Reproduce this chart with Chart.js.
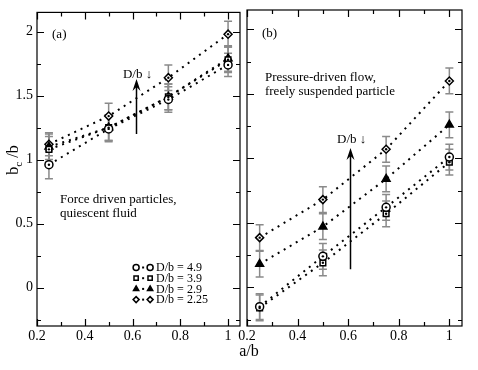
<!DOCTYPE html>
<html>
<head>
<meta charset="utf-8">
<script src="https://cdn.jsdelivr.net/npm/chart.js@4.4.0/dist/chart.umd.min.js"></script>
<style>
    html, body { margin: 0; padding: 0; background: #fff; }
    .wrap { position: relative; width: 478px; height: 370px; font-family: "Liberation Serif", serif; }
    .wrap canvas { position: absolute; left: 0; top: 0; }
    .probe { position: absolute; left: -999px; font: 14px "Liberation Serif"; }
</style>
</head>
<body>
<div class="wrap">
    <canvas id="panelA" width="478" height="370"></canvas>
    <canvas id="panelB" width="478" height="370"></canvas>
</div>
<span class="probe">0.2 D/b</span>
<script>
// a/b positions of the four measurements
const xValues = [0.25, 0.5, 0.75, 1];
const seriesLabels = ['D/b = 4.9', 'D/b = 3.9', 'D/b = 2.9', 'D/b = 2.25'];
const pointStyles = ['circle', 'rect', 'triangle', 'rectRot'];

// (a) force driven particles, quiescent fluid
const forceDb49 = [0.96, 1.24, 1.47, 1.74];
const forceDb39 = [1.08, 1.25, 1.49, 1.78];
const forceDb29 = [1.10, 1.25, 1.49, 1.79];
const forceDb225 = [1.12, 1.34, 1.64, 1.98];
const forceErr49 = [0.11, 0.10, 0.10, 0.09];
const forceErr39 = [0.10, 0.10, 0.10, 0.10];
const forceErr29 = [0.10, 0.10, 0.10, 0.10];
const forceErr225 = [0.09, 0.10, 0.10, 0.10];

// (b) pressure-driven flow, freely suspended particle
const flowDb49 = [-0.15, 0.24, 0.62, 1.01];
const flowDb39 = [-0.16, 0.19, 0.57, 0.97];
const flowDb29 = [0.18, 0.47, 0.84, 1.26];
const flowDb225 = [0.385, 0.68, 1.07, 1.60];
const flowErr49 = [0.10, 0.10, 0.10, 0.10];
const flowErr39 = [0.10, 0.10, 0.10, 0.10];
const flowErr29 = [0.10, 0.10, 0.10, 0.10];
const flowErr225 = [0.10, 0.10, 0.10, 0.10];

const xTicks = [0.2, 0.4, 0.6, 0.8, 1];
const yTicks = [0, 0.5, 1, 1.5, 2];
const xMinor = [0.3, 0.5, 0.7, 0.9];
const yMinor = [-0.25, 0.25, 0.75, 1.25, 1.75];

const SERIF = '"Liberation Serif", "Times New Roman", serif';

function makeSeries(values, errors, i) {
    return {
        label: seriesLabels[i],
        data: xValues.map((x, k) => ({ x, y: values[k] })),
        errors: errors,
        showLine: true,
        borderColor: '#000',
        borderWidth: 2,
        borderDash: [2, 5],
        pointStyle: pointStyles[i],
        pointRadius: i === 2 ? 4.5 : 4,
        pointBackgroundColor: i === 2 ? '#000' : '#fff',
        pointBorderColor: '#000',
        pointBorderWidth: 1.5
    };
}

// error bars under the markers
const errorBars = {
    id: 'errorBars',
    beforeDatasetsDraw(chart) {
        const { ctx, scales: { x, y } } = chart;
        ctx.save();
        ctx.strokeStyle = '#8a8a8a';
        ctx.lineWidth = 1.5;
        chart.data.datasets.forEach(ds => {
            ds.data.forEach((p, k) => {
                const e = ds.errors[k];
                const px = x.getPixelForValue(p.x);
                const top = y.getPixelForValue(p.y + e);
                const bot = y.getPixelForValue(p.y - e);
                ctx.beginPath();
                ctx.moveTo(px, top); ctx.lineTo(px, bot);
                ctx.moveTo(px - 4, top); ctx.lineTo(px + 4, top);
                ctx.moveTo(px - 4, bot); ctx.lineTo(px + 4, bot);
                ctx.stroke();
            });
        });
        ctx.restore();
    },
    afterDatasetsDraw(chart) {
        // little dot in the middle of the open symbols
        const { ctx } = chart;
        ctx.save();
        ctx.fillStyle = '#000';
        chart.data.datasets.forEach((ds, i) => {
            if (ds.pointStyle === 'triangle') return;
            chart.getDatasetMeta(i).data.forEach(pt => {
                ctx.beginPath();
                ctx.arc(pt.x, pt.y, 1.2, 0, Math.PI * 2);
                ctx.fill();
            });
        });
        ctx.restore();
    }
};

// box frame with inward ticks on all four sides
const frame = {
    id: 'frame',
    afterDraw(chart) {
        const { ctx, chartArea: a, scales: { x, y } } = chart;
        ctx.save();
        ctx.strokeStyle = '#000';
        ctx.lineWidth = 1.2;
        ctx.beginPath();
        const xt = (vals, len) => vals.forEach(v => {
            const px = Math.round(x.getPixelForValue(v)) + 0.5;
            ctx.moveTo(px, a.bottom); ctx.lineTo(px, a.bottom - len);
            ctx.moveTo(px, a.top); ctx.lineTo(px, a.top + len);
        });
        const yt = (vals, len) => vals.forEach(v => {
            const py = Math.round(y.getPixelForValue(v)) + 0.5;
            ctx.moveTo(a.left, py); ctx.lineTo(a.left + len, py);
            ctx.moveTo(a.right, py); ctx.lineTo(a.right - len, py);
        });
        xt(xTicks, 7); xt(xMinor, 4);
        yt(yTicks, 7); yt(yMinor, 4);
        ctx.stroke();
        ctx.strokeRect(a.left, a.top, a.right - a.left, a.bottom - a.top);
        ctx.restore();
    }
};

// texts, arrow and legend placed in data units
const notes = {
    id: 'notes',
    afterDraw(chart, args, opts) {
        const { ctx, scales: { x, y } } = chart;
        ctx.save();
        ctx.fillStyle = '#000';
        ctx.textBaseline = 'middle';
        ctx.textAlign = 'left';
        (opts.texts || []).forEach(t => {
            ctx.font = (t.size || 13) + 'px ' + SERIF;
            ctx.fillText(t.text, x.getPixelForValue(t.x), y.getPixelForValue(t.y));
        });
        if (opts.arrow) {
            const ax = Math.round(x.getPixelForValue(opts.arrow.x)) + 0.5;
            const y0 = y.getPixelForValue(opts.arrow.from);
            const y1 = y.getPixelForValue(opts.arrow.to);
            ctx.strokeStyle = '#000';
            ctx.lineWidth = 1.5;
            ctx.beginPath();
            ctx.moveTo(ax, y0); ctx.lineTo(ax, y1 + 6);
            ctx.stroke();
            ctx.beginPath();
            ctx.moveTo(ax, y1);
            ctx.lineTo(ax - 4, y1 + 12);
            ctx.lineTo(ax, y1 + 8);
            ctx.lineTo(ax + 4, y1 + 12);
            ctx.closePath();
            ctx.fill();
        }
        if (opts.legend) {
            const lx = x.getPixelForValue(opts.legend.x);
            const ly = y.getPixelForValue(opts.legend.y);
            ctx.font = '12px ' + SERIF;
            chart.data.datasets.forEach((ds, i) => {
                const ry = ly + i * 10.7;
                const sym = {
                    pointStyle: ds.pointStyle, radius: 3, borderWidth: 1.5, rotation: 0
                };
                ctx.strokeStyle = '#000';
                ctx.lineWidth = 1.5;
                ctx.fillStyle = i === 2 ? '#000' : '#fff';
                Chart.helpers.drawPoint(ctx, sym, lx, ry);
                Chart.helpers.drawPoint(ctx, sym, lx + 14, ry);
                ctx.fillStyle = '#000';
                ctx.fillRect(lx + 6, ry - 1, 2, 2);
                ctx.fillText(ds.label, lx + 20, ry + 0.5);
            });
        }
        if (opts.yTitle) {
            ctx.translate(opts.yTitle.px, opts.yTitle.py);
            ctx.rotate(-Math.PI / 2);
            ctx.textAlign = 'left';
            ctx.textBaseline = 'alphabetic';
            ctx.font = '16px ' + SERIF;
            const w1 = ctx.measureText('b').width;
            ctx.font = '11px ' + SERIF;
            const w2 = ctx.measureText('c').width;
            ctx.font = '16px ' + SERIF;
            const w3 = ctx.measureText(' /b').width;
            let cx = -(w1 + w2 + w3) / 2;
            ctx.fillText('b', cx, 5);
            ctx.font = '11px ' + SERIF;
            ctx.fillText('c', cx + w1, 9);
            ctx.font = '16px ' + SERIF;
            ctx.fillText(' /b', cx + w1 + w2, 5);
        }
        if (opts.xTitle) {
            ctx.setTransform(1, 0, 0, 1, 0, 0);
            ctx.font = '16px ' + SERIF;
            ctx.textAlign = 'center';
            ctx.fillText(opts.xTitle.text, opts.xTitle.px, opts.xTitle.py);
        }
        ctx.restore();
    }
};

function axes(showY) {
    return {
        x: {
            type: 'linear',
            min: 0.2,
            max: 1.05,
            grid: { display: false, drawTicks: false },
            border: { display: false },
            afterBuildTicks: s => { s.ticks = xTicks.map(v => ({ value: v })); },
            afterFit: s => { s.height = 44; },
            ticks: {
                color: '#000',
                padding: 2,
                font: { family: SERIF, size: 14 },
                callback: v => String(v)
            }
        },
        y: {
            type: 'linear',
            display: showY,
            min: -0.3,
            max: 2.15,
            grid: { display: false, drawTicks: false },
            border: { display: false },
            afterBuildTicks: s => { s.ticks = yTicks.map(v => ({ value: v })); },
            afterFit: s => { s.width = showY ? 37 : 0; },
            ticks: {
                color: '#000',
                padding: 4,
                font: { family: SERIF, size: 14 },
                callback: v => String(v)
            }
        }
    };
}

function draw() {
    new Chart(document.getElementById('panelA'), {
        type: 'scatter',
        data: {
            datasets: [
                makeSeries(forceDb49, forceErr49, 0),
                makeSeries(forceDb39, forceErr39, 1),
                makeSeries(forceDb29, forceErr29, 2),
                makeSeries(forceDb225, forceErr225, 3)
            ]
        },
        options: {
            responsive: false,
            animation: false,
            layout: { padding: { left: 0, top: 10, right: 238, bottom: 0 } },
            plugins: {
                legend: { display: false },
                tooltip: { enabled: false },
                notes: {
                    texts: [
                        { text: '(a)', x: 0.263, y: 1.977 },
                        { text: 'D/b \u2193', x: 0.56, y: 1.667 },
                        { text: 'Force driven particles,', x: 0.296, y: 0.69 },
                        { text: 'quiescent fluid', x: 0.296, y: 0.581 }
                    ],
                    arrow: { x: 0.615, from: 1.2, to: 1.63 },
                    legend: { x: 0.615, y: 0.157 },
                    yTitle: { px: 13, py: 160 },
                    xTitle: { text: 'a/b', px: 249, py: 356 }
                }
            },
            scales: axes(true)
        },
        plugins: [errorBars, frame, notes]
    });

    new Chart(document.getElementById('panelB'), {
        type: 'scatter',
        data: {
            datasets: [
                makeSeries(flowDb49, flowErr49, 0),
                makeSeries(flowDb39, flowErr39, 1),
                makeSeries(flowDb29, flowErr29, 2),
                makeSeries(flowDb225, flowErr225, 3)
            ]
        },
        options: {
            responsive: false,
            animation: false,
            layout: { padding: { left: 247, top: 10, right: 16, bottom: 0 } },
            plugins: {
                legend: { display: false },
                tooltip: { enabled: false },
                notes: {
                    texts: [
                        { text: '(b)', x: 0.259, y: 1.969 },
                        { text: 'Pressure-driven flow,', x: 0.271, y: 1.628 },
                        { text: 'freely suspended particle', x: 0.271, y: 1.519 },
                        { text: 'D/b \u2193', x: 0.556, y: 1.147 }
                    ],
                    arrow: { x: 0.608, from: 0.14, to: 1.08 }
                }
            },
            scales: axes(false)
        },
        plugins: [errorBars, frame, notes]
    });
}

document.fonts.load('14px "Liberation Serif"').then(draw, draw);
</script>
</body>
</html>
